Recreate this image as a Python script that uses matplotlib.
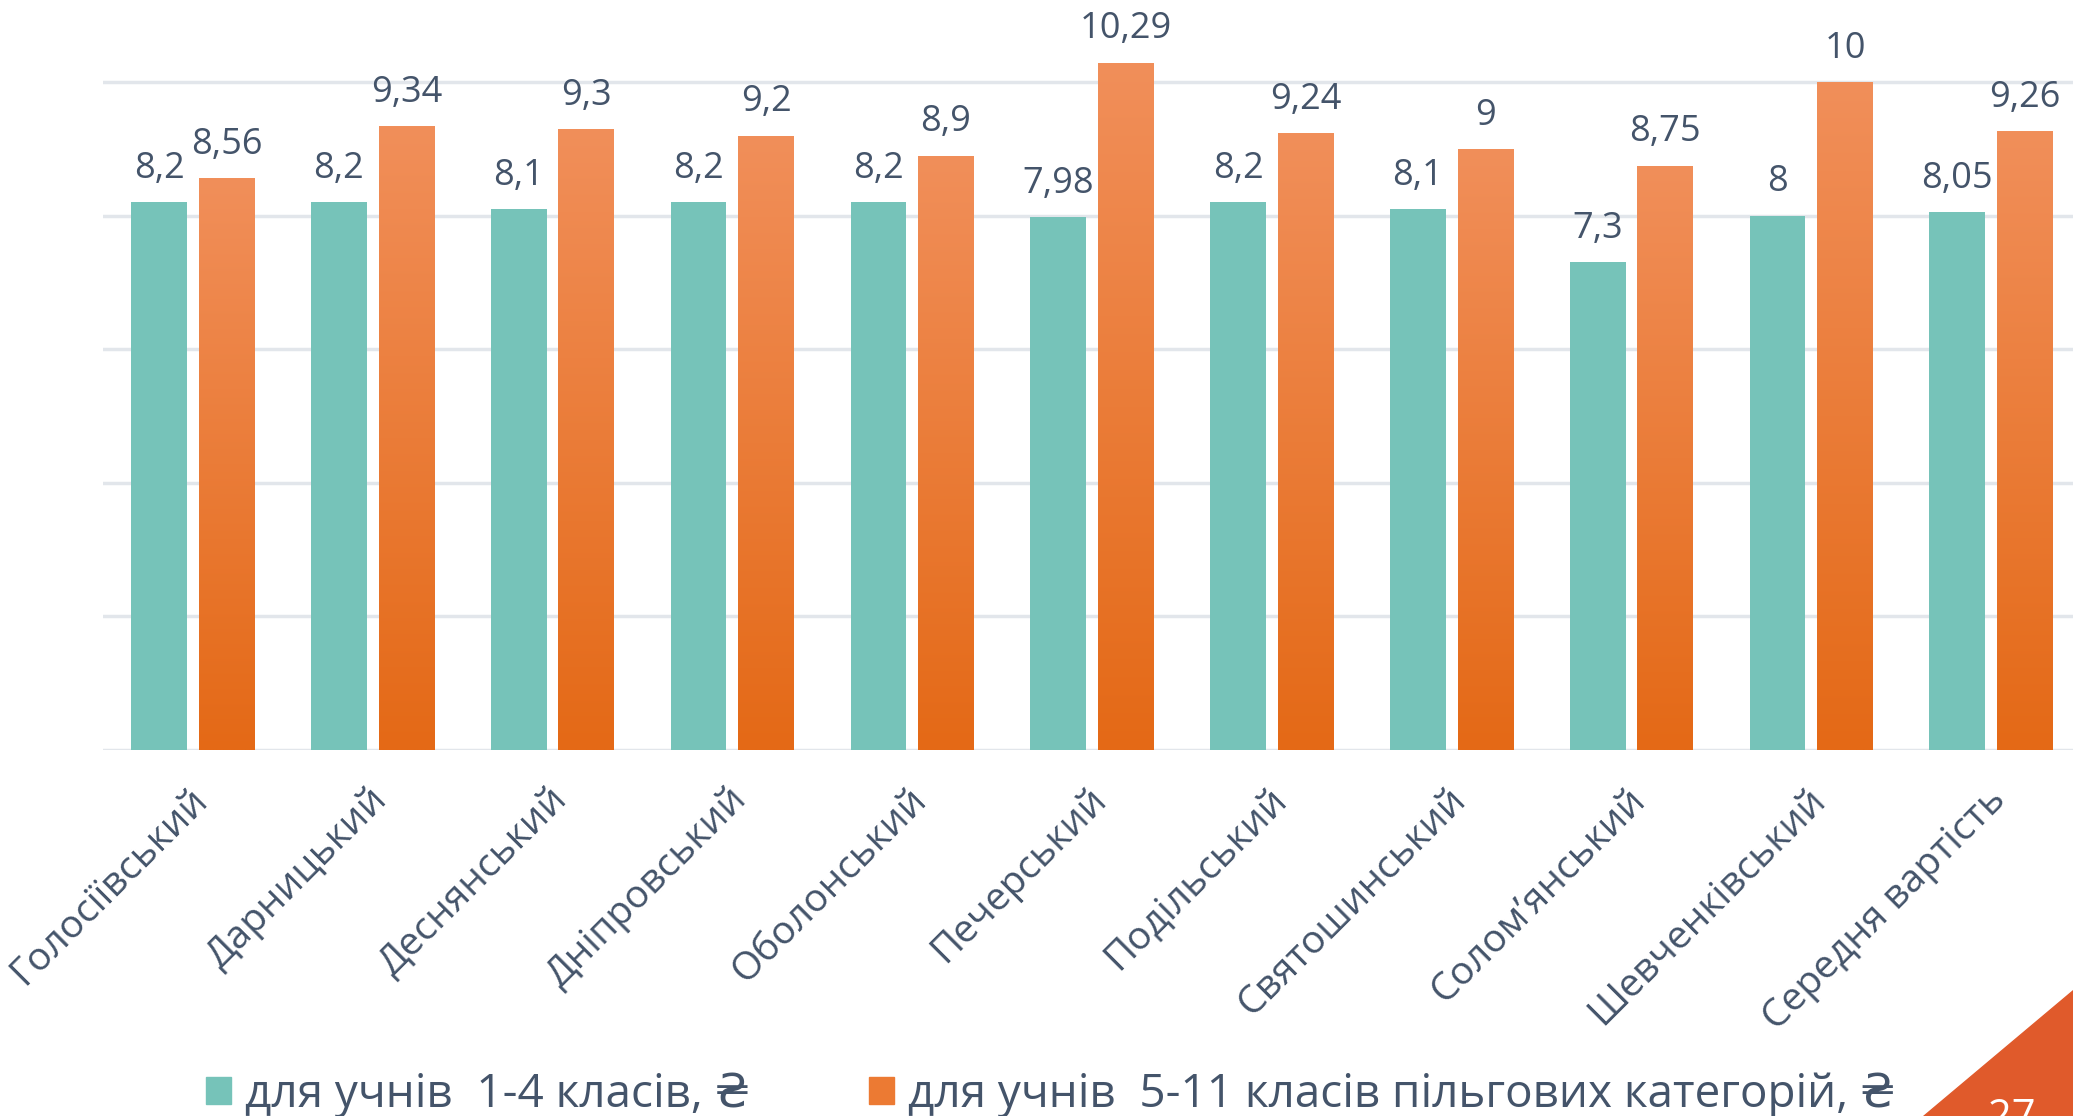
import numpy as np
import matplotlib
matplotlib.use("Agg")
import matplotlib.pyplot as plt
from matplotlib.patches import Patch, Polygon

categories = ["Голосіївський", "Дарницький", "Деснянський", "Дніпровський",
              "Оболонський", "Печерський", "Подільський", "Святошинський",
              "Солом’янський", "Шевченківський", "Середня вартість"]
junior = [8.2, 8.2, 8.1, 8.2, 8.2, 7.98, 8.2, 8.1, 7.3, 8.0, 8.05]
senior = [8.56, 9.34, 9.3, 9.2, 8.9, 10.29, 9.24, 9.0, 8.75, 10.0, 9.26]
series_names = ["для учнів  1-4 класів, ₴",
                "для учнів  5-11 класів пільгових категорій, ₴"]
yticks = [0, 2, 4, 6, 8, 10]

TEXT = "#44546A"
TEAL = "#76C3B9"
OR_TOP = np.array([241, 143, 90]) / 255
OR_BOT = np.array([228, 105, 22]) / 255
FONT = ["Open Sans", "DejaVu Sans"]
plt.rcParams["font.family"] = FONT

W, H = 2073, 1116
fig = plt.figure(figsize=(W / 100, H / 100), dpi=100)
ax = fig.add_axes([103 / W, 1 - 749.6 / H, (2081 - 103) / W, 749.6 / H])

x = np.arange(len(categories))
bw = 0.31
off = 0.188
b1 = ax.bar(x - off, junior, bw, color=TEAL, zorder=2)
b2 = ax.bar(x + off, senior, bw, color=OR_BOT, zorder=2)

grad = np.linspace(0, 1, 256)[:, None, None]
garr = OR_BOT[None, None, :] * (1 - grad) + OR_TOP[None, None, :] * grad
for p in b2:
    x0, y0 = p.get_x(), p.get_y()
    w, h = p.get_width(), p.get_height()
    im = ax.imshow(garr, extent=[x0, x0 + w, y0, y0 + h], origin="lower",
                   aspect="auto", zorder=3, interpolation="bilinear")
    im.set_clip_path(p)

def fmt(v):
    return "{:g}".format(v).replace(".", ",")

for bars, vals in ((b1, junior), (b2, senior)):
    for p, v in zip(bars, vals):
        ax.annotate(fmt(v), (p.get_x() + p.get_width() / 2, p.get_height()),
                    xytext=(0, 11), textcoords="offset points",
                    ha="center", va="bottom", fontsize=26, color=TEXT,
                    zorder=5)

ax.set_xlim(-0.5, len(categories) - 0.5)
ax.set_ylim(0, 749.6 / 66.75)
ax.set_yticks(yticks)
ax.set_yticklabels([])
ax.tick_params(axis="y", length=0)
ax.yaxis.grid(True, color="#E2E6EB", lw=2.5, zorder=0)
ax.set_axisbelow(True)
for s in ax.spines.values():
    s.set_visible(False)

ax.set_xticks(x + 0.05)
ax.set_xticklabels(categories, rotation=45, ha="right", va="center",
                   rotation_mode="anchor", fontsize=28, color=TEXT)
ax.tick_params(axis="x", length=0, pad=32)

handles = [Patch(color=TEAL), Patch(color="#EC7A33")]
fig.legend(handles, series_names, loc="center left",
           bbox_to_anchor=(206 / W, 0.019), ncol=2, frameon=False,
           fontsize=33, labelcolor=TEXT, handlelength=0.55, handleheight=0.55,
           handletextpad=0.3, columnspacing=2.6, borderaxespad=0, borderpad=0)

tri = Polygon([[1923 / W, 0], [1.0, 0], [1.0, 1 - 990 / H]], closed=True,
              transform=fig.transFigure, color="#E05A2B", zorder=10)
fig.patches.append(tri)
fig.text(2012 / W, 1 - 1097 / H, "27", ha="center", va="top",
         fontsize=30, color="white", zorder=11)

fig.savefig("out.png", dpi=100)
